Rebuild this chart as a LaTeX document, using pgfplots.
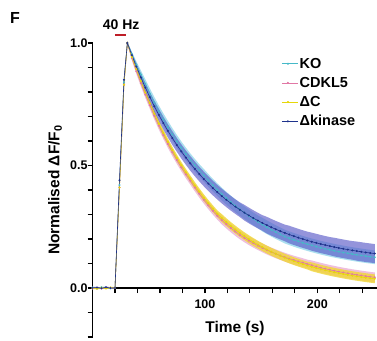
\documentclass[border=0pt]{standalone}
\usepackage{fontspec}
\setmainfont{Liberation Sans}
\usepackage{pgfplots}
\usepackage{pgfplotstable}
\pgfplotsset{compat=1.18}
\usepgfplotslibrary{fillbetween}
\definecolor{koL}{RGB}{70,185,200}
\definecolor{koB}{RGB}{150,215,235}
\definecolor{cdL}{RGB}{225,120,165}
\definecolor{cdB}{RGB}{235,175,212}
\definecolor{dcL}{RGB}{230,215,10}
\definecolor{dcB}{RGB}{240,215,50}
\definecolor{dkL}{RGB}{30,50,140}
\definecolor{dkB}{RGB}{90,90,200}
\definecolor{stim}{RGB}{190,30,40}

\pgfplotstableread{
t ko koe cd cde dc dce dk dke
0 0.002 0.003 -0.002 0.003 0 0.003 0.001 0.003
4 -0.002 0.003 0.001 0.003 -0.003 0.003 0.002 0.003
8 0.003 0.003 -0.002 0.003 0.001 0.003 -0.001 0.003
12 0.001 0.003 0.002 0.003 -0.002 0.003 0.003 0.003
16 -0.001 0.003 0.000 0.003 0.002 0.003 0.000 0.003
20 0.000 0.003 0.000 0.003 0.000 0.003 0.000 0.003
24 0.42 0.010 0.41 0.010 0.41 0.010 0.44 0.012
28 0.84 0.012 0.83 0.010 0.83 0.010 0.85 0.012
31 1.000 .005 1.000 .005 1.000 .004 1.000 .005
35 .9546 .010 .938 .009 .942 .007 .9506 .010
39 .9120 .013 .8845 .011 .8925 .009 .9040 .013
43 .8719 .016 .836 .013 .844 .011 .8599 .016
47 .8332 .019 .7896 .014 .7976 .012 .8182 .019
51 .7938 .021 .746 .015 .754 .013 .7788 .021
55 .7565 .023 .703 .016 .711 .014 .7415 .023
59 .7213 .024 .6624 .016 .6704 .014 .7063 .025
63 .6881 .025 .6243 .016 .6323 .014 .6731 .026
67 .6566 .026 .5883 .016 .5963 .014 .6416 .027
71 .6269 .026 .5545 .016 .5625 .014 .6119 .028
75 .5988 .026 .5226 .016 .5306 .014 .5838 .028
79 .5723 .026 .4925 .016 .5005 .014 .5573 .029
83 .5472 .026 .4642 .016 .4722 .014 .5322 .029
87 .5235 .026 .4376 .016 .4456 .014 .5085 .030
91 .5011 .026 .4104 .016 .4184 .014 .4861 .030
95 .4799 .026 .3848 .016 .3928 .014 .4649 .030
99 .4599 .026 .3605 .016 .3685 .014 .4449 .030
103 .4393 .026 .3375 .016 .3455 .014 .4260 .030
107 .4198 .026 .3157 .016 .3237 .014 .4081 .030
111 .4012 .026 .2950 .016 .3030 .014 .3912 .030
115 .3835 .026 .2775 .018 .2855 .016 .3752 .030
119 .3668 .026 .2609 .018 .2689 .016 .3601 .030
123 .3508 .026 .2453 .018 .2533 .016 .3458 .030
127 .3357 .026 .2307 .018 .2387 .016 .3324 .030
131 .3213 .026 .2168 .018 .2248 .016 .3196 .030
135 .3076 .026 .2048 .018 .2118 .016 .3076 .032
139 .2945 .026 .1935 .018 .1995 .016 .2962 .032
143 .2821 .026 .1830 .018 .1880 .016 .2854 .032
147 .2702 .026 .1731 .018 .1771 .016 .2752 .032
151 .2589 .028 .1638 .018 .1668 .016 .2656 .032
155 .2482 .028 .1551 .018 .1571 .016 .2565 .034
159 .2380 .028 .1470 .018 .1480 .016 .2480 .034
163 .2281 .028 .1395 .018 .1395 .016 .2398 .034
167 .2189 .028 .1324 .018 .1314 .016 .2322 .034
171 .2099 .028 .1258 .018 .1238 .016 .2249 .034
175 .2031 .028 .1196 .018 .1166 .016 .2181 .036
179 .1966 .028 .1138 .018 .1098 .016 .2116 .036
183 .1905 .028 .1085 .018 .1035 .016 .2055 .036
187 .1847 .028 .1035 .018 .0975 .016 .1997 .036
191 .1792 .028 .0978 .018 .0918 .016 .1942 .036
195 .1740 .028 .0925 .020 .0865 .018 .1890 .037
199 .1692 .028 .0875 .020 .0815 .018 .1842 .037
203 .1645 .028 .0828 .020 .0768 .018 .1795 .037
207 .1602 .028 .0783 .020 .0723 .018 .1752 .037
211 .1560 .028 .0741 .020 .0681 .018 .1710 .037
215 .1521 .028 .0702 .020 .0642 .018 .1671 .038
219 .1485 .028 .0665 .020 .0605 .018 .1635 .038
223 .1450 .028 .0630 .020 .0570 .018 .1600 .038
227 .1417 .028 .0597 .020 .0537 .018 .1567 .038
231 .1386 .028 .0565 .020 .0505 .018 .1536 .038
235 .1356 .028 .0536 .020 .0476 .018 .1506 .039
239 .1329 .028 .0509 .020 .0449 .018 .1479 .039
243 .1302 .028 .0483 .020 .0423 .018 .1452 .039
247 .1278 .028 .0458 .020 .0398 .018 .1428 .039
251 .1254 .028 .0435 .020 .0375 .018 .1404 .039
}\data

\begin{document}
\begin{tikzpicture}[font=\bfseries]
\begin{axis}[
  at={(92.5pt,3pt)}, anchor=south west,
  scale only axis, width=284.5pt, height=294pt,
  xmin=0, xmax=253, ymin=-0.2, ymax=1,
  clip=false,
  axis x line=middle, axis y line=left,
  axis line style={-, line width=1.3pt, black},
  xtick={100,200},
  minor xtick={20,40,60,80,120,140,160,180,220,240},
  ytick={0,0.5,1},
  minor ytick={-0.2,-0.1,0.1,0.2,0.3,0.4,0.6,0.7,0.8,0.9},
  tick align=outside,
  major tick length=5pt, minor tick length=5pt,
  tick style={line width=1.1pt, black},
  /pgf/number format/assume math mode=true,
  ticklabel style={font=\bfseries\fontsize{12.5}{14}\selectfont},
  yticklabel style={/pgf/number format/.cd, fixed, fixed zerofill, precision=1, /tikz/.cd, xshift=3.5pt},
  xticklabel style={yshift=-3pt},
  legend style={at={(0.664,0.955)}, anchor=north west, draw=none, fill=none,
    font=\bfseries\fontsize{14.5}{16}\selectfont, row sep=4.5pt, inner sep=0pt,
    nodes={inner sep=1.5pt}},
  legend cell align=left,
  legend image code/.code={\draw[mark repeat=2,mark phase=2,#1] plot coordinates {(0pt,0pt) (6pt,0pt) (12pt,0pt)};\path (12pt,0pt) -- (16pt,0pt);},
]
% bands
\addplot[name path=koU, draw=none, forget plot] table[x=t, y expr=\thisrow{ko}+\thisrow{koe}] {\data};
\addplot[name path=koD, draw=none, forget plot] table[x=t, y expr=\thisrow{ko}-\thisrow{koe}] {\data};
\addplot[koB, fill opacity=0.8, forget plot] fill between[of=koU and koD];
\addplot[name path=cdU, draw=none, forget plot] table[x=t, y expr=\thisrow{cd}+\thisrow{cde}] {\data};
\addplot[name path=cdD, draw=none, forget plot] table[x=t, y expr=\thisrow{cd}-\thisrow{cde}] {\data};
\addplot[cdB, fill opacity=0.8, forget plot] fill between[of=cdU and cdD];
\addplot[name path=dcU, draw=none, forget plot] table[x=t, y expr=\thisrow{dc}+\thisrow{dce}] {\data};
\addplot[name path=dcD, draw=none, forget plot] table[x=t, y expr=\thisrow{dc}-\thisrow{dce}] {\data};
\addplot[dcB, fill opacity=0.8, forget plot] fill between[of=dcU and dcD];
\addplot[name path=dkU, draw=none, forget plot] table[x=t, y expr=\thisrow{dk}+\thisrow{dke}] {\data};
\addplot[name path=dkD, draw=none, forget plot] table[x=t, y expr=\thisrow{dk}-\thisrow{dke}] {\data};
\addplot[dkB, fill opacity=0.65, forget plot] fill between[of=dkU and dkD];
% means
\addplot[koL, line width=0.6pt, mark=*, mark size=0.7pt] table[x=t, y=ko] {\data};
\addlegendentry{KO}
\addplot[cdL, line width=0.6pt, mark=*, mark size=0.7pt] table[x=t, y=cd] {\data};
\addlegendentry{CDKL5}
\addplot[dcL, line width=0.6pt, mark=*, mark size=0.7pt] table[x=t, y=dc] {\data};
\addlegendentry{ΔC}
\addplot[dkL, line width=0.6pt, mark=*, mark size=0.7pt] table[x=t, y=dk] {\data};
\addlegendentry{Δkinase}
% stimulus
\draw[stim, line width=2pt] (axis cs:20,1.033) -- (axis cs:30,1.033);
\node[font=\bfseries\fontsize{14}{16}\selectfont] at (axis cs:25.5,1.075) {40 Hz};
% labels
\node[font=\bfseries\fontsize{15.5}{17}\selectfont] at (axis cs:126.7,-0.167) {Time (s)};
\node[rotate=90, font=\bfseries\fontsize{15.5}{17}\selectfont] at (axis cs:-33.3,0.4) {Normalised ΔF/F\textsubscript{0}};
\end{axis}
\node[font=\bfseries\fontsize{16}{18}\selectfont] at (15pt,322pt) {F};
\pgfresetboundingbox
\useasboundingbox (0,0) rectangle (377pt,340pt);
\end{tikzpicture}
\end{document}
